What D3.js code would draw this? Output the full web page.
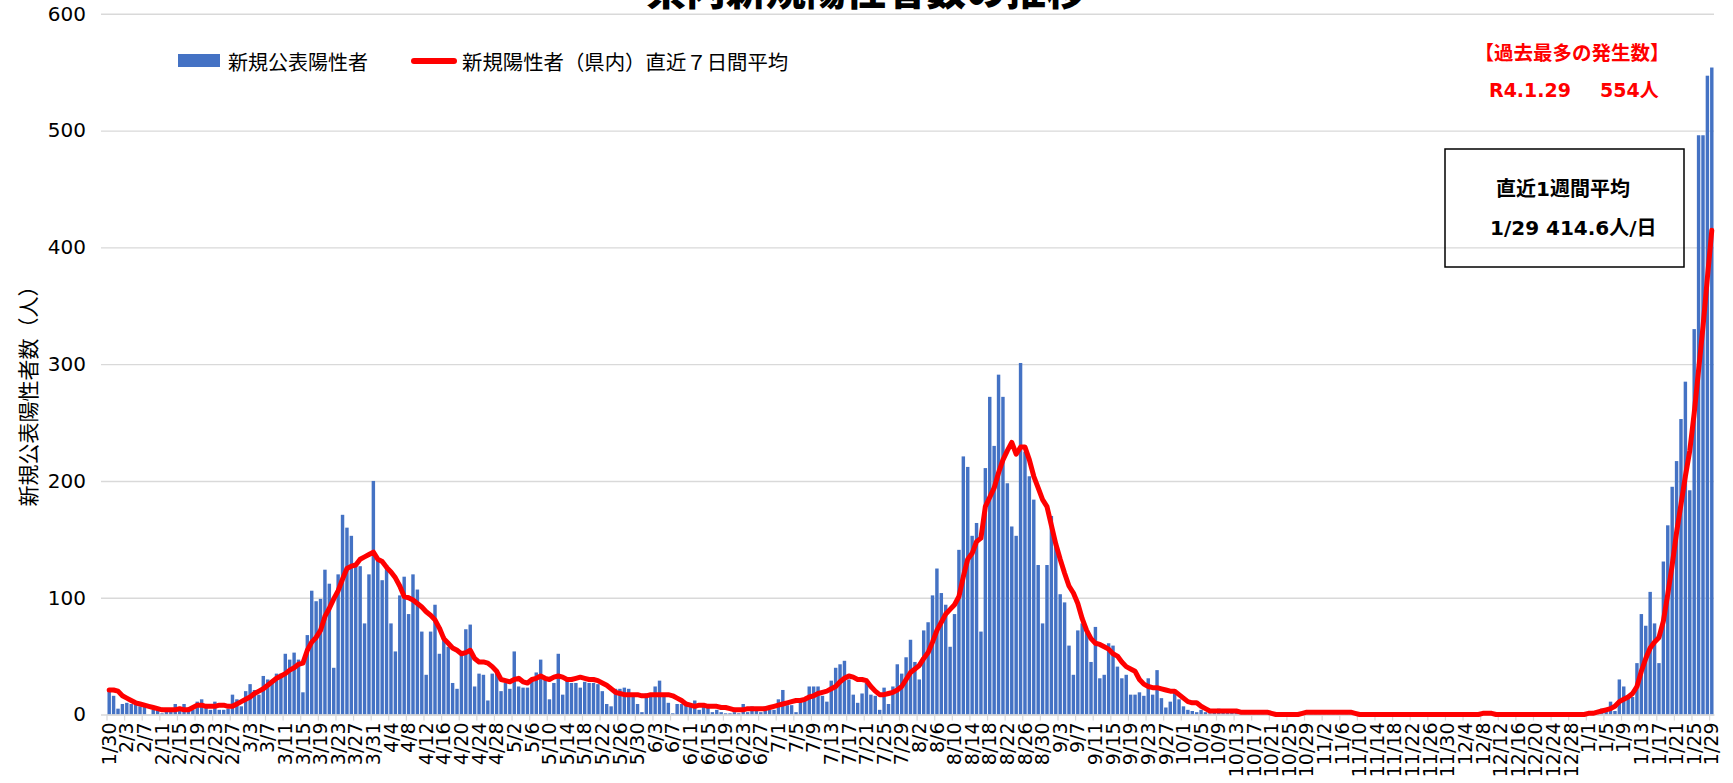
<!DOCTYPE html>
<html><head><meta charset="utf-8">
<script src="https://cdn.jsdelivr.net/npm/d3@7"></script>
<style>
html,body{margin:0;padding:0;background:#fff;}
svg{display:block;}
</style></head>
<body><svg id="c" width="1733" height="783"></svg>
<script>
// ---- data ----
const tickLabels = ["1/30","2/3","2/7","2/11","2/15","2/19","2/23","2/27","3/3","3/7","3/11","3/15","3/19","3/23","3/27","3/31",
"4/4","4/8","4/12","4/16","4/20","4/24","4/28","5/2","5/6","5/10","5/14","5/18","5/22","5/26","5/30",
"6/3","6/7","6/11","6/15","6/19","6/23","6/27","7/1","7/5","7/9","7/13","7/17","7/21","7/25","7/29",
"8/2","8/6","8/10","8/14","8/18","8/22","8/26","8/30","9/3","9/7","9/11","9/15","9/19","9/23","9/27",
"10/1","10/5","10/9","10/13","10/17","10/21","10/25","10/29","11/2","11/6","11/10","11/14","11/18","11/22","11/26","11/30",
"12/4","12/8","12/12","12/16","12/20","12/24","12/28","1/1","1/5","1/9","1/13","1/17","1/21","1/25","1/29"];
const yTicks = [0,100,200,300,400,500,600];
const bars = [
20,16,5,9,10,9,9,7,7,0,
4,4,1,4,4,9,4,9,6,4,
11,13,6,4,11,4,4,5,17,13,
7,20,26,21,17,33,30,27,35,35,
52,47,53,47,19,68,106,97,99,124,
112,40,120,171,160,153,127,127,78,120,
200,133,115,128,78,54,102,118,86,120,
107,71,34,71,94,52,67,58,27,22,
52,73,77,24,35,34,12,35,38,20,
27,22,54,24,23,23,30,36,47,30,
13,27,52,17,30,27,27,23,28,27,
27,26,20,9,7,22,22,23,22,17,
9,2,18,18,24,29,18,10,1,9,
9,9,7,12,4,7,7,2,4,2,
1,1,2,1,9,2,7,5,2,7,
4,4,13,21,8,8,2,14,13,24,
24,24,16,11,29,40,43,46,30,17,
10,18,27,17,16,4,23,9,24,43,
35,49,64,45,30,72,79,102,125,104,
94,58,86,141,221,212,153,164,71,211,
272,230,291,272,198,161,153,301,225,204,
184,128,78,128,170,144,103,96,59,34,
72,78,72,45,75,31,34,61,59,41,
31,34,17,17,19,16,31,17,38,14,
6,11,20,13,7,4,3,2,4,2,
1,3,5,2,4,3,2,2,1,3,
2,1,2,3,0,0,0,0,0,0,
0,1,2,3,1,2,2,1,3,2,
1,2,2,0,0,0,0,0,0,0,
0,0,0,0,0,0,0,0,0,0,
0,0,0,0,0,0,0,0,0,0,
0,0,1,2,0,0,0,0,0,0,
0,0,0,0,0,0,0,0,0,0,
0,0,0,0,0,0,1,2,1,5,
5,11,3,30,24,15,15,44,86,76,
105,78,44,131,162,195,217,253,285,192,
330,496,496,547,554];
const avg7 = [
21,21,20,16,14,12,10,9,8,7,
6,5,4,4,4,4,5,4,4,6,
8,8,7,7,7,8,8,7,7,9,
11,13,15,18,20,22,25,28,31,33,
35,38,40,43,44,55,62,66,72,84,
91,99,106,116,125,127,128,133,135,137,
139,133,131,126,122,117,110,101,100,98,
95,92,88,85,81,74,65,61,57,55,
52,53,55,48,45,45,44,41,37,30,
29,28,30,31,28,27,30,31,33,31,
30,32,33,32,30,30,31,32,31,30,
30,29,27,25,22,19,18,17,17,17,
17,16,16,17,17,17,17,17,16,14,
12,9,8,7,8,8,7,7,7,6,
6,5,4,4,4,5,5,5,5,5,
6,7,8,9,10,11,12,12,13,15,
16,18,19,20,22,24,28,31,33,32,
30,30,29,24,20,17,17,18,19,21,
24,30,36,39,42,48,53,62,72,79,
86,90,94,101,118,133,138,148,151,178,
186,194,207,218,226,233,223,229,229,218,
204,194,184,178,162,146,133,121,110,104,
95,82,72,65,61,60,58,56,52,50,
45,41,39,37,30,26,24,23,23,22,
21,20,20,17,14,11,10,10,7,5,
3,3,3,3,3,3,3,2,2,2,
2,2,2,2,1,0,0,0,0,0,
0,1,2,2,2,2,2,2,2,2,
2,2,2,1,0,0,0,0,0,0,
0,0,0,0,0,0,0,0,0,0,
0,0,0,0,0,0,0,0,0,0,
0,0,1,1,1,0,0,0,0,0,
0,0,0,0,0,0,0,0,0,0,
0,0,0,0,0,0,1,1,2,3,
4,5,7,11,13,15,18,24,37,48,
57,62,66,80,103,128,156,180,204,226,
258,295,332,374,414.6];
const categories = d3.timeDay.range(new Date(2021,0,30), new Date(2022,0,30)).map(d3.timeFormat("%-m/%-d"));

// ---- drawing ----
const svg = d3.select("#c");
const L = 107, R = 1714, B = 714.5, T = 13.8;
const x = d3.scaleBand().domain(categories).range([L, R]).paddingInner(0.22).paddingOuter(0.11);
const y = d3.scaleLinear().domain([0, 600]).range([B, T]);
const step = x.step();
const CJK = "'Noto Sans CJK JP', sans-serif";
const LAT = "'DejaVu Sans', Verdana, sans-serif";
const MIX = "'DejaVu Sans', 'Noto Sans CJK JP', sans-serif";

// title (cut at the top, as in the source image)
svg.append("text").attr("x", 866).attr("y", 5).attr("text-anchor", "middle")
  .attr("font-family", CJK).attr("font-weight", 900).attr("font-size", 40).attr("fill", "#000")
  .text("県内新規陽性者数の推移");

// gridlines
const grid = svg.append("g").attr("transform", `translate(${L - 6},0)`)
  .call(d3.axisLeft(y).tickValues(yTicks).tickSize(-(R - L + 6)).tickFormat(""));
grid.select(".domain").remove();
grid.selectAll("line").attr("stroke", "#d9d9d9").attr("stroke-width", 1.4);

// y labels
const ya = svg.append("g").attr("transform", `translate(${L - 6},0)`)
  .call(d3.axisLeft(y).tickValues(yTicks).tickSize(0).tickPadding(15));
ya.select(".domain").remove();
ya.selectAll("text").attr("font-family", LAT).attr("font-size", 20).attr("fill", "#000");

// y title
svg.append("text").attr("transform", "translate(27,391) rotate(-90)")
  .attr("text-anchor", "middle").attr("dominant-baseline", "central")
  .attr("font-family", CJK).attr("font-size", 21).attr("fill", "#000")
  .text("新規公表陽性者数（人）");

// bars
svg.append("g").selectAll("rect").data(bars).join("rect")
  .attr("x", (d, i) => x(categories[i]))
  .attr("width", x.bandwidth())
  .attr("y", d => y(d))
  .attr("height", d => B - y(d))
  .attr("fill", "#4472C4");

// x axis with labels every 4 days
const xa = svg.append("g").attr("transform", `translate(0,${B})`)
  .call(d3.axisBottom(x).tickValues(categories.filter((d, i) => i % 4 === 0))
    .tickFormat((d, i) => tickLabels[i]).tickSize(0));
xa.select(".domain").attr("stroke", "#d9d9d9").attr("stroke-width", 1.4);
xa.selectAll("text").attr("transform", "rotate(-90)").attr("x", -8).attr("y", 0).attr("dy", "0.35em")
  .attr("text-anchor", "end").attr("font-family", LAT).attr("font-size", 19).attr("fill", "#000");
// boundary tick marks
xa.append("g").selectAll("line").data(categories.filter((d, i) => i % 4 === 0)).join("line")
  .attr("x1", d => x(d) - (step - x.bandwidth()) / 2).attr("x2", d => x(d) - (step - x.bandwidth()) / 2)
  .attr("y1", 0).attr("y2", 6).attr("stroke", "#d9d9d9").attr("stroke-width", 1.2);

// 7-day average line
const line = d3.line().x((d, i) => x(categories[i]) + x.bandwidth() / 2).y(d => y(d));
svg.append("path").datum(avg7).attr("d", line).attr("fill", "none")
  .attr("stroke", "#FF0000").attr("stroke-width", 5).attr("stroke-linejoin", "round").attr("stroke-linecap", "round");

// legend
svg.append("rect").attr("x", 178).attr("y", 54).attr("width", 42).attr("height", 13).attr("fill", "#4472C4");
svg.append("text").attr("x", 228).attr("y", 61).attr("dominant-baseline", "central")
  .attr("font-family", CJK).attr("font-size", 20).attr("fill", "#000").text("新規公表陽性者");
svg.append("line").attr("x1", 414).attr("x2", 454).attr("y1", 61).attr("y2", 61)
  .attr("stroke", "#FF0000").attr("stroke-width", 6).attr("stroke-linecap", "round");
svg.append("text").attr("x", 462).attr("y", 61).attr("dominant-baseline", "central")
  .attr("font-family", CJK).attr("font-size", 20.4).attr("fill", "#000").text("新規陽性者（県内）直近７日間平均");

// red annotation
svg.append("text").attr("x", 1572).attr("y", 51).attr("text-anchor", "middle").attr("dominant-baseline", "central")
  .attr("font-family", CJK).attr("font-weight", 700).attr("font-size", 19.5).attr("fill", "#FF0000")
  .text("【過去最多の発生数】");
svg.append("text").attr("x", 1489).attr("y", 90).attr("dominant-baseline", "central")
  .attr("font-family", MIX).attr("font-weight", 700).attr("font-size", 19).attr("fill", "#FF0000")
  .text("R4.1.29");
svg.append("text").attr("x", 1600).attr("y", 90).attr("dominant-baseline", "central")
  .attr("font-family", MIX).attr("font-weight", 700).attr("font-size", 19).attr("fill", "#FF0000")
  .text("554人");

// box
svg.append("rect").attr("x", 1445).attr("y", 149).attr("width", 239).attr("height", 118)
  .attr("fill", "none").attr("stroke", "#000").attr("stroke-width", 1.5);
svg.append("text").attr("x", 1496).attr("y", 189).attr("dominant-baseline", "central")
  .attr("font-family", MIX).attr("font-weight", 700).attr("font-size", 20).attr("fill", "#000")
  .text("直近1週間平均");
svg.append("text").attr("x", 1490).attr("y", 228).attr("dominant-baseline", "central")
  .attr("font-family", MIX).attr("font-weight", 700).attr("font-size", 20).attr("fill", "#000")
  .text("1/29 414.6人/日");
</script>
</body></html>
